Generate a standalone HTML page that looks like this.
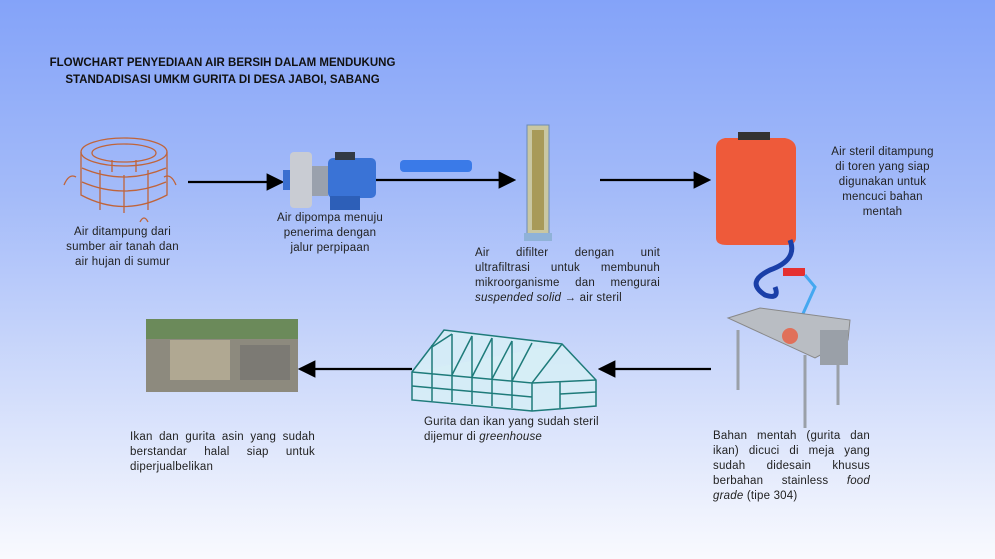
<!DOCTYPE html>
<html><head><meta charset="utf-8"><style>
body{margin:0}
#c{position:relative;width:995px;height:559px;overflow:hidden;background:linear-gradient(180deg,#84a3f9 0%,#a4bbf9 35%,#d2ddfb 70%,#f9fafe 100%);font-family:"Liberation Sans",sans-serif;color:#222}
.t{position:absolute;font-size:11.5px;line-height:15px;letter-spacing:0.2px}
.l{display:block;text-align:justify;text-align-last:justify;white-space:nowrap}
.n{display:block;white-space:nowrap}
.ctr{text-align:center}
.ttl{position:absolute;left:30px;width:385px;top:55px;font-weight:bold;font-size:11.5px;line-height:17px;text-align:center;color:#111}
svg{position:absolute;left:0;top:0}
</style></head><body><div id="c">
<div class="ttl">FLOWCHART PENYEDIAAN AIR BERSIH DALAM MENDUKUNG<br>STANDADISASI UMKM GURITA DI DESA JABOI, SABANG</div>
<svg width="995" height="559">
<defs><marker id="a" markerWidth="8" markerHeight="8" refX="7" refY="4" orient="auto"><path d="M0,0L8,4L0,8z" fill="#000"/></marker></defs>
<g stroke="#000" stroke-width="2.2" fill="none">
<line x1="188" y1="182" x2="282" y2="182" marker-end="url(#a)"/>
<line x1="375" y1="180" x2="514" y2="180" marker-end="url(#a)"/>
<line x1="600" y1="180" x2="709" y2="180" marker-end="url(#a)"/>
<line x1="711" y1="369" x2="600" y2="369" marker-end="url(#a)"/>
<line x1="412" y1="369" x2="300" y2="369" marker-end="url(#a)"/>
</g>
<!-- well -->
<g stroke="#c0643a" stroke-width="1.3" fill="none">
<ellipse cx="124" cy="152" rx="43" ry="14"/>
<ellipse cx="124" cy="153" rx="32" ry="9"/>
<path d="M81,152 V195 Q124,218 167,195 V152"/>
<path d="M82,168 Q124,186 166,168 M82,182 Q124,200 166,182"/>
<path d="M100,170 v40 M124,175 v38 M148,170 v40 M112,160 v12 M136,160 v12"/>
<path d="M64,185 q5,-12 12,-8 M176,185 q-5,-12 -12,-8 M140,222 q4,-8 8,0"/>
</g>
<!-- pump -->
<rect x="283" y="170" width="8" height="20" fill="#3b6fd0"/>
<rect x="290" y="152" width="22" height="56" rx="4" fill="#c9ccd3"/>
<rect x="312" y="166" width="16" height="30" fill="#9aa1ad"/>
<rect x="328" y="158" width="48" height="40" rx="5" fill="#3a73d6"/>
<rect x="335" y="152" width="20" height="8" fill="#333a44"/>
<rect x="330" y="196" width="30" height="14" fill="#2d5fb8"/>
<rect x="400" y="160" width="72" height="12" rx="4" fill="#3a7ae8"/>
<!-- filter -->
<rect x="527" y="125" width="22" height="112" fill="#c9c7a2" stroke="#6b8bb5"/>
<rect x="532" y="130" width="12" height="100" fill="#a89a58"/>
<rect x="524" y="233" width="28" height="8" fill="#8fb2d8"/>
<!-- tank -->
<path d="M716,148 Q716,140 725,138 L785,138 Q795,140 796,148 V238 Q796,245 785,245 H727 Q716,245 716,238 Z" fill="#ee5a3a"/>
<rect x="738" y="132" width="32" height="8" fill="#333"/>
<path d="M790,240 q8,20 -20,30 q-25,12 -5,25 q15,5 10,-8" stroke="#1a3fa8" stroke-width="5" fill="none"/>
<rect x="783" y="268" width="22" height="8" fill="#e53030"/>
<path d="M805,275 l10,12 l-18,40" stroke="#45a8f0" stroke-width="3" fill="none"/>
<!-- table -->
<path d="M728,318 L760,308 L850,320 L848,340 L815,358 Z" fill="#b9bdc3" stroke="#888"/>
<rect x="820" y="330" width="28" height="35" fill="#9aa0a8"/>
<g stroke="#9aa0a8" stroke-width="3"><line x1="738" y1="330" x2="738" y2="390"/><line x1="805" y1="355" x2="805" y2="428"/><line x1="838" y1="345" x2="838" y2="405"/></g>
<circle cx="790" cy="336" r="8" fill="#e0705a"/>
<!-- greenhouse -->
<g stroke="#1e7b7a" stroke-width="1.5" fill="#d6eef6" fill-opacity="0.85">
<path d="M412,372 L444,330 L562,344 L596,380 V406 L532,411 L412,400 Z"/>
<path d="M412,372 L532,383 L562,344 M532,383 L596,380 M532,383 V411 M432,345 V401 M452,334 V402 M472,336 V404 M492,338 V406 M512,341 V408 M412,386 L532,397 M560,382 V408 M560,394 L596,392"/>
<path d="M432,347 L452,334 M452,375 L472,336 M472,377 L492,338 M492,379 L512,341 M512,381 L532,343" fill="none"/>
</g>
<!-- fish photo -->
<rect x="146" y="319" width="152" height="73" fill="#8d8a7e"/>
<rect x="146" y="319" width="152" height="20" fill="#6b8a5a"/>
<rect x="170" y="340" width="60" height="40" fill="#b0a892"/>
<rect x="240" y="345" width="50" height="35" fill="#7c7a74"/>
</svg>
<div class="t ctr" style="left:45px;top:225px;width:155px">Air ditampung dari<br>sumber air tanah dan<br>air hujan di sumur</div>
<div class="t ctr" style="left:255px;top:211px;width:150px">Air dipompa menuju<br>penerima dengan<br>jalur perpipaan</div>
<div class="t" style="left:475px;top:246px;width:185px"><span class="l">Air difilter dengan unit</span><span class="l">ultrafiltrasi untuk membunuh</span><span class="l">mikroorganisme dan mengurai</span><span class="n"><i>suspended solid</i> → air steril</span></div>
<div class="t ctr" style="left:800px;top:145px;width:165px">Air steril ditampung<br>di toren yang siap<br>digunakan untuk<br>mencuci bahan<br>mentah</div>
<div class="t" style="left:424px;top:415px;width:200px"><span class="n">Gurita dan ikan yang sudah steril</span><span class="n">dijemur di <i>greenhouse</i></span></div>
<div class="t" style="left:130px;top:430px;width:185px"><span class="l">Ikan dan gurita asin yang sudah</span><span class="l">berstandar halal siap untuk</span><span class="n">diperjualbelikan</span></div>
<div class="t" style="left:713px;top:429px;width:157px"><span class="l">Bahan mentah (gurita dan</span><span class="l">ikan) dicuci di meja yang</span><span class="l">sudah didesain khusus</span><span class="l">berbahan stainless <i>food</i></span><span class="n"><i>grade</i> (tipe 304)</span></div>
</div></body></html>
